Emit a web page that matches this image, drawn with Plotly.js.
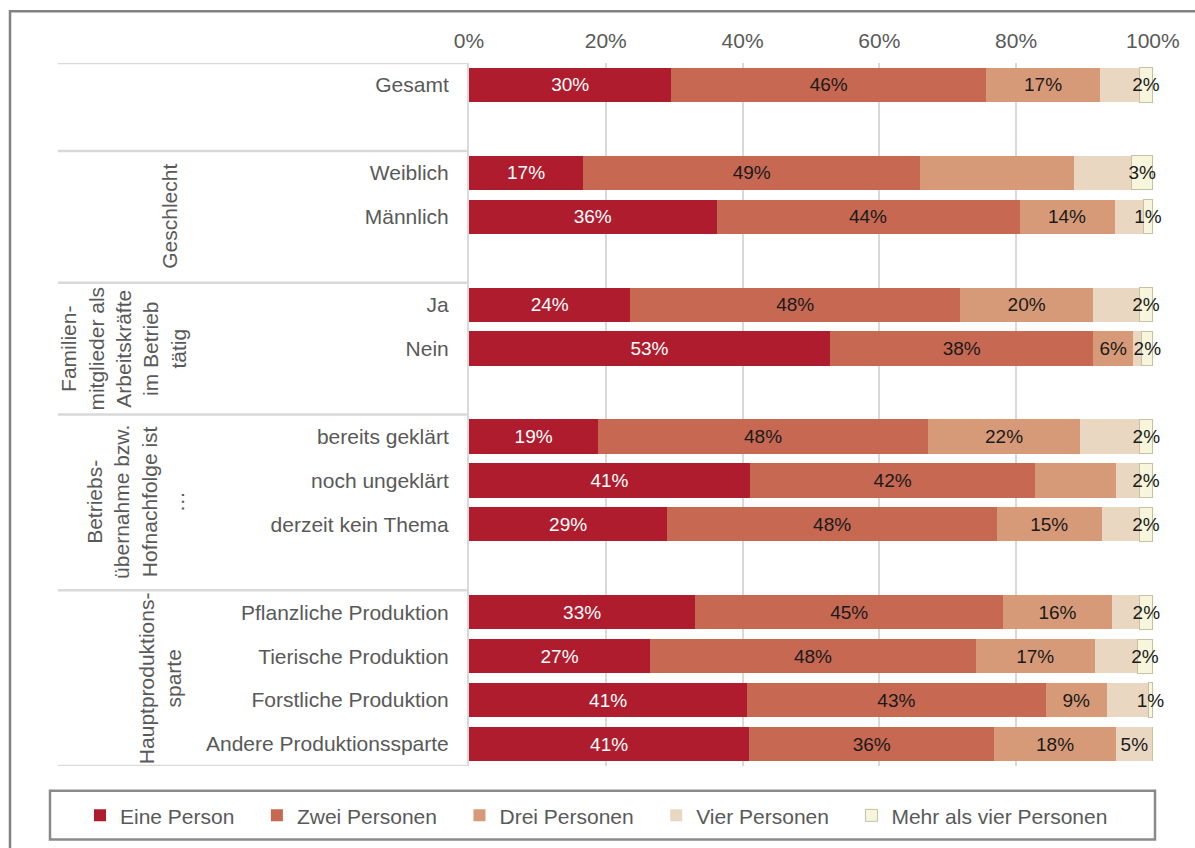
<!DOCTYPE html>
<html>
<head>
<meta charset="utf-8">
<script src="https://cdn.plot.ly/plotly-3.0.1.min.js"></script>
<style>html,body{margin:0;padding:0;background:#fff;}#chart{width:1195px;height:848px;}</style>
</head>
<body>
<div id="chart"></div>
<script>
// ---- data ----
const rows = ['Gesamt','Weiblich','Männlich','Ja','Nein','bereits geklärt','noch ungeklärt','derzeit kein Thema','Pflanzliche Produktion','Tierische Produktion','Forstliche Produktion','Andere Produktionssparte'];
const groupSizes = [1, 2, 2, 3, 4];
const groupLabels = ['', 'Geschlecht', 'Familien-<br>mitglieder als<br>Arbeitskräfte<br>im Betrieb<br>tätig', 'Betriebs-<br>übernahme bzw.<br>Hofnachfolge ist<br>…', 'Hauptproduktions-<br>sparte'];
const seriesNames = ['Eine Person','Zwei Personen','Drei Personen','Vier Personen','Mehr als vier Personen'];

const eine = [29.6,16.7,36.2,23.6,52.8,18.9,41.1,29.0,33.1,26.5,40.7,41.0];
const zwei = [46.0,49.3,44.3,48.2,38.5,48.2,41.7,48.2,45.0,47.6,43.6,35.8];
const drei = [16.7,22.5,13.9,19.5,5.8,22.3,11.8,15.3,15.9,17.4,9.0,17.8];
const vier = [5.7,8.4,4.2,6.7,1.3,8.7,3.4,5.5,4.1,6.2,6.0,5.4];
const mehr = [2.0,3.1,1.4,2.0,1.6,1.9,2.0,2.0,1.9,2.3,0.7,0];

// shown data labels (null = not shown)
const eineLbl = [30,17,36,24,53,19,41,29,33,27,41,41];
const zweiLbl = [46,49,44,48,38,48,42,48,45,48,43,36];
const dreiLbl = [17,null,14,20,6,22,null,15,16,17,9,18];
const vierLbl = [null,null,null,null,null,null,null,null,null,null,null,5];
const mehrLbl = [2,3,1,2,2,2,2,2,2,2,1,null];

const xTicks = [0,20,40,60,80,100];

// ---- styling ----
const colors = ['#AE1C2D','#C66852','#D79A78','#E9D7C2','#F7F5DC'];
const textColors = ['#ffffff','#1a1a1a','#1a1a1a','#1a1a1a','#1a1a1a'];
const FONT = 'Liberation Sans, Arial, sans-serif';
const GREY = '#595959';
const LINE = '#d9d9d9';
const FS = 21;

// build category order with blank spacer slots between groups
const cats = [];
const groupSpans = [];
let r = 0;
groupSizes.forEach((n, g) => {
  const start = cats.length;
  for (let i = 0; i < n; i++) cats.push(rows[r++]);
  let end = cats.length - 1;
  if (g < groupSizes.length - 1) { cats.push(' '.repeat(g + 1)); end = cats.length - 1; }
  groupSpans.push([start - 0.5, end + 0.5]);
});

const values = [eine, zwei, drei, vier, mehr];
const labels = [eineLbl, zweiLbl, dreiLbl, vierLbl, mehrLbl];
const legendPad = '\u00a0\u00a0\u00a0';

const traces = values.map((v, k) => ({
  type: 'bar',
  orientation: 'h',
  name: seriesNames[k] + (k < values.length - 1 ? legendPad : ''),
  y: rows,
  x: v,
  text: labels[k].map(l => l == null ? '' : l + '%'),
  textposition: 'inside',
  insidetextanchor: 'middle',
  textangle: 0,
  constraintext: 'none',
  cliponaxis: false,
  textfont: {family: FONT, size: 19, color: textColors[k]},
  marker: {color: colors[k], line: {color: k === 4 ? '#C4C2A0' : colors[k], width: k === 4 ? 1 : 0}},
  hoverinfo: 'skip'
}));

// pixel helpers for paper coordinates
const W = 1195, H = 848, L = 469, R = 42, T = 63, B = 78;
const pw = W - L - R, ph = H - T - B;
const px = x => (x - L) / pw;
const py = y => 1 - (y - T) / ph;

const shapes = [];
// group separators on the left
groupSpans.forEach(s => {
  shapes.push({type:'line', xref:'paper', yref:'y', x0: px(58), x1: 0, y0: s[0], y1: s[0], line:{color: LINE, width: 2.5}, layer:'below'});
});
const lastEdge = groupSpans[groupSpans.length-1][1];
shapes.push({type:'line', xref:'paper', yref:'y', x0: px(58), x1: 0, y0: lastEdge, y1: lastEdge, line:{color: LINE, width: 2.5}, layer:'below'});
// outer frame
shapes.push({type:'rect', xref:'paper', yref:'paper', x0: px(10), x1: px(1260), y0: py(900), y1: py(11), line:{color:'#828282', width:2.5}, fillcolor:'rgba(0,0,0,0)'});
// legend frame
shapes.push({type:'rect', xref:'paper', yref:'paper', x0: px(50), x1: px(1155), y0: py(844), y1: py(795), line:{color:'#8a8a8a', width:2.5}, fillcolor:'rgba(0,0,0,0)'});

const groupX = [0, 170, 123, 135.5, 160];
const annotations = [];
groupLabels.forEach((t, g) => {
  if (!t) return;
  const s = groupSpans[g];
  annotations.push({
    xref:'paper', yref:'y', x: px(groupX[g]), y: (s[0] + s[1]) / 2,
    text: t, textangle: -90, showarrow: false, xanchor:'center', yanchor:'middle', align:'center',
    font: {family: FONT, size: FS, color: GREY}
  });
});

const layout = {
  width: W, height: H,
  margin: {l: L, r: R, t: T, b: B, pad: 0},
  paper_bgcolor: '#ffffff', plot_bgcolor: '#ffffff',
  barmode: 'stack', bargap: 0.22,
  font: {family: FONT, color: GREY, size: FS},
  uniformtext: {mode: 'show', minsize: 19},
  showlegend: true,
  legend: {orientation: 'h', x: px(80), xanchor: 'left', y: py(820), yanchor: 'middle',
           font: {family: FONT, size: FS, color: GREY},
           traceorder: 'normal', bgcolor: 'rgba(0,0,0,0)', borderwidth: 0, itemclick: false},
  xaxis: {side: 'top', range: [0, 100.02], tickvals: xTicks, ticktext: xTicks.map(v => v + '%'),
          showgrid: true, gridcolor: LINE, gridwidth: 2, zeroline: false, showline: false,
          ticks: '', ticklabelstandoff: 10, tickfont: {family: FONT, size: FS, color: GREY}, fixedrange: true},
  yaxis: {type: 'category', categoryorder: 'array', categoryarray: cats, range: [cats.length - 0.5, -0.5],
          showgrid: false, zeroline: false, showline: true, linecolor: LINE, linewidth: 2,
          ticks: '', ticklabelstandoff: 14, tickfont: {family: FONT, size: FS, color: GREY}, fixedrange: true},
  shapes: shapes,
  annotations: annotations
};

Plotly.newPlot('chart', traces, layout, {displayModeBar: false, staticPlot: true});
</script>
</body>
</html>
